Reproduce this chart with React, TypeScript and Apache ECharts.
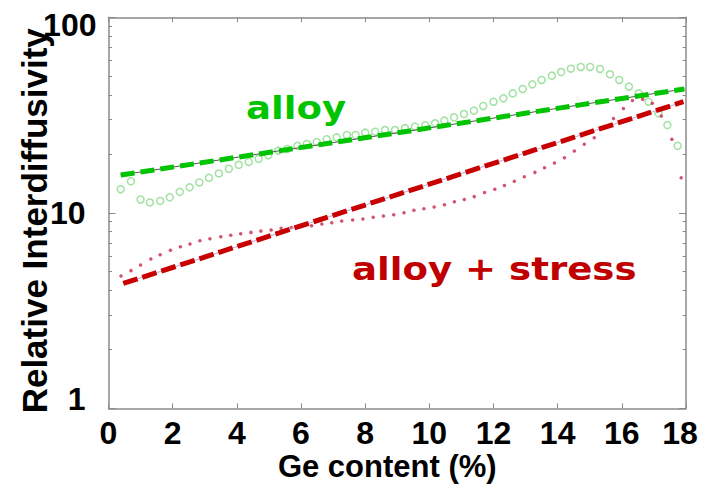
import React, { useEffect, useRef } from "react";
import * as echarts from "echarts";

// Ge content (%) and relative interdiffusivity
const alloyGe = [0.38, 0.7, 1.0, 1.29, 1.61, 1.91, 2.22, 2.53, 2.83, 3.13, 3.44, 3.75, 4.06, 4.37, 4.68, 4.98, 5.29, 5.57, 5.89, 6.18, 6.49, 6.8, 7.11, 7.43, 7.7, 8.0, 8.31, 8.62, 8.93, 9.24, 9.55, 9.87, 10.18, 10.47, 10.77, 11.08, 11.39, 11.68, 12.0, 12.31, 12.6, 12.91, 13.21, 13.5, 13.82, 14.11, 14.41, 14.72, 15.01, 15.32, 15.63, 15.92, 16.22, 16.53, 16.83, 17.14, 17.42, 17.74];
const alloyVal = [13.2, 14.5, 11.7, 11.3, 11.5, 12.0, 12.8, 13.5, 14.3, 15.1, 15.9, 16.8, 17.6, 18.2, 18.9, 19.7, 20.8, 21.2, 22.0, 22.5, 23.0, 23.8, 24.3, 25.0, 25.0, 25.7, 26.0, 26.5, 26.5, 27.1, 27.6, 28.1, 28.7, 29.6, 30.8, 32.0, 33.3, 35.2, 37.0, 38.5, 40.8, 43.0, 45.4, 47.8, 50.3, 52.5, 54.6, 55.7, 55.7, 54.4, 51.1, 47.8, 44.2, 40.8, 37.0, 32.3, 28.1, 22.0];

const stressGe = [0.39, 0.7, 1.0, 1.32, 1.61, 1.93, 2.24, 2.54, 2.85, 3.16, 3.5, 3.81, 4.12, 4.44, 4.75, 5.07, 5.38, 5.7, 6.02, 6.33, 6.65, 6.96, 7.27, 7.61, 7.93, 8.25, 8.57, 8.89, 9.21, 9.52, 9.83, 10.15, 10.47, 10.78, 11.09, 11.4, 11.72, 12.04, 12.34, 12.65, 12.96, 13.29, 13.59, 13.9, 14.21, 14.52, 14.83, 15.14, 15.44, 15.74, 16.05, 16.33, 16.65, 16.95, 17.23, 17.56, 17.85];
const stressVal = [4.75, 5.06, 5.41, 5.8, 6.1, 6.43, 6.71, 6.92, 7.2, 7.37, 7.55, 7.67, 7.82, 7.94, 8.07, 8.17, 8.33, 8.41, 8.5, 8.59, 8.77, 8.9, 9.08, 9.19, 9.3, 9.48, 9.63, 9.78, 10.0, 10.3, 10.5, 10.7, 11.0, 11.4, 11.7, 12.1, 12.7, 13.2, 13.8, 14.5, 15.3, 16.1, 17.0, 18.0, 19.1, 20.7, 22.4, 24.2, 27.2, 30.4, 34.2, 37.5, 38.1, 36.3, 31.3, 23.8, 15.1];

// exponential fits (straight on the log axis)
const alloyFitGe = [0.38, 17.95];
const alloyFitVal = [15.6, 43.0];
const stressFitGe = [0.46, 17.92];
const stressFitVal = [4.35, 37.0];

const yMajorTicks = [1, 10, 100];
const yMinorTicks = [2, 3, 4, 5, 6, 7, 8, 9, 20, 30, 40, 50, 60, 70, 80, 90];

const xTitle = "Ge content (%)";
const yTitle = "Relative Interdiffusivity";
const alloyLabel = "alloy";
const stressLabel = "alloy + stress";

const zip = (xs: number[], ys: number[]) =>
  xs.slice(0, Math.min(xs.length, ys.length)).map((x, i) => [x, ys[i]]);

const AXIS_GRAY = "#8a8a8a";
const ARIAL = "Liberation Sans, Arial, sans-serif";
const VERDANA = "DejaVu Sans, Verdana, sans-serif";

export default function App() {
  const ref = useRef<HTMLDivElement>(null);

  useEffect(() => {
    if (!ref.current) return;
    const chart = echarts.init(ref.current, undefined, { renderer: "svg" });

    const tickLabelStyle = {
      fontSize: 32,
      fontWeight: "bold" as const,
      fontFamily: ARIAL,
      color: "#000",
    };

    const logAxisBase = {
      type: "log" as const,
      logBase: 10,
      min: 1,
      max: 100,
      splitLine: { show: false },
    };

    const option: any = {
      animation: false,
      backgroundColor: "#fff",
      grid: {
        left: 108.5,
        right: 23,
        top: 17.3,
        bottom: 79.7,
        containLabel: false,
        outerBoundsMode: "none",
      },
      xAxis: [
        {
          type: "value",
          min: 0,
          max: 18,
          interval: 2,
          position: "bottom",
          axisLine: { show: true, onZero: false, lineStyle: { color: AXIS_GRAY, width: 1.5 } },
          axisTick: { inside: true, length: 5, lineStyle: { color: AXIS_GRAY, width: 1 } },
          axisLabel: {
            ...tickLabelStyle,
            margin: 9,
            formatter: (v: number) => (v === 18 ? "{e|18}" : String(v)),
            rich: { e: { ...tickLabelStyle, padding: [0, 12, 0, 0] } },
          },
          splitLine: { show: false },
          name: xTitle,
          nameLocation: "middle",
          nameGap: 43,
          nameMoveOverlap: false,
          nameTextStyle: {
            fontSize: 31,
            fontWeight: "bold",
            fontFamily: ARIAL,
            color: "#000",
            padding: [0, 20, 0, 0],
          },
        },
        {
          type: "value",
          min: 0,
          max: 18,
          interval: 2,
          position: "top",
          axisLine: { show: true, onZero: false, lineStyle: { color: AXIS_GRAY, width: 1.5 } },
          axisTick: { inside: true, length: 5, lineStyle: { color: AXIS_GRAY, width: 1 } },
          axisLabel: { show: false },
          splitLine: { show: false },
        },
      ],
      yAxis: [
        {
          ...logAxisBase,
          position: "left",
          axisLine: { show: true, lineStyle: { color: AXIS_GRAY, width: 1.5 } },
          axisTick: { inside: true, length: 7, customValues: yMajorTicks, lineStyle: { color: AXIS_GRAY, width: 1 } },
          axisLabel: {
            ...tickLabelStyle,
            margin: 4,
            customValues: yMajorTicks,
            formatter: (v: number) => {
              const r = Math.round(v);
              if (r === 100) return "{t|100}";
              if (r === 1) return "{b|1}";
              return "{m|" + r + "}";
            },
            rich: {
              t: { ...tickLabelStyle, padding: [16, 8, 0, 0] },
              m: { ...tickLabelStyle, padding: [0, 19, 0, 0] },
              b: { ...tickLabelStyle, padding: [0, 19, 18, 0] },
            },
          },
          name: yTitle,
          nameLocation: "middle",
          nameRotate: 90,
          nameGap: 57,
          nameMoveOverlap: false,
          nameTextStyle: {
            fontSize: 35,
            fontWeight: "bold",
            fontFamily: ARIAL,
            color: "#000",
            padding: [0, 16, 0, 0],
          },
        },
        {
          ...logAxisBase,
          position: "left",
          axisLine: { show: false },
          axisTick: { inside: true, length: 3.5, customValues: yMinorTicks, lineStyle: { color: AXIS_GRAY, width: 1 } },
          axisLabel: { show: false },
        },
        {
          ...logAxisBase,
          position: "right",
          axisLine: { show: true, lineStyle: { color: AXIS_GRAY, width: 1.5 } },
          axisTick: { inside: true, length: 7, customValues: yMajorTicks, lineStyle: { color: AXIS_GRAY, width: 1 } },
          axisLabel: { show: false },
        },
        {
          ...logAxisBase,
          position: "right",
          axisLine: { show: false },
          axisTick: { inside: true, length: 3.5, customValues: yMinorTicks, lineStyle: { color: AXIS_GRAY, width: 1 } },
          axisLabel: { show: false },
        },
      ],
      series: [
        {
          type: "scatter",
          name: "alloy data",
          data: zip(alloyGe, alloyVal),
          symbol: "circle",
          symbolSize: 7,
          itemStyle: { color: "rgba(255,255,255,0)", borderColor: "#8ad98a", borderWidth: 1.5 },
          z: 2,
        },
        {
          type: "scatter",
          name: "alloy + stress data",
          data: zip(stressGe, stressVal),
          symbol: "circle",
          symbolSize: 3.5,
          itemStyle: { color: "#c8284a" },
          z: 2,
        },
        {
          type: "line",
          name: "alloy fit thin",
          data: zip(alloyFitGe, alloyFitVal),
          showSymbol: false,
          symbol: "none",
          lineStyle: { color: "#555", width: 1 },
          z: 3,
        },
        {
          type: "line",
          name: "alloy fit",
          data: zip(alloyFitGe, alloyFitVal),
          showSymbol: false,
          symbol: "none",
          lineStyle: { color: "#00c400", width: 5, type: [14, 6] },
          z: 4,
        },
        {
          type: "line",
          name: "alloy + stress fit thin",
          data: zip(stressFitGe, stressFitVal),
          showSymbol: false,
          symbol: "none",
          lineStyle: { color: "#c9b3dd", width: 1.2 },
          z: 3,
        },
        {
          type: "line",
          name: "alloy + stress fit",
          data: zip(stressFitGe, stressFitVal),
          showSymbol: false,
          symbol: "none",
          lineStyle: { color: "#c80000", width: 5, type: [15, 5] },
          z: 4,
        },
      ],
      graphic: [
        {
          type: "text",
          x: 246,
          y: 108,
          scaleX: 1.16,
          z: 10,
          style: {
            text: alloyLabel,
            fontSize: 32,
            fontWeight: "bold",
            fontFamily: VERDANA,
            fill: "#00c400",
            align: "left",
            verticalAlign: "middle",
          },
        },
        {
          type: "text",
          x: 352,
          y: 269,
          scaleX: 1.16,
          z: 10,
          style: {
            text: stressLabel,
            fontSize: 32,
            fontWeight: "bold",
            fontFamily: VERDANA,
            fill: "#c00000",
            align: "left",
            verticalAlign: "middle",
          },
        },
      ],
    };

    chart.setOption(option);
    return () => chart.dispose();
  }, []);

  return (
    <div
      ref={ref}
      style={{ position: "fixed", left: 0, top: 0, width: 709, height: 488, background: "#fff" }}
    />
  );
}
